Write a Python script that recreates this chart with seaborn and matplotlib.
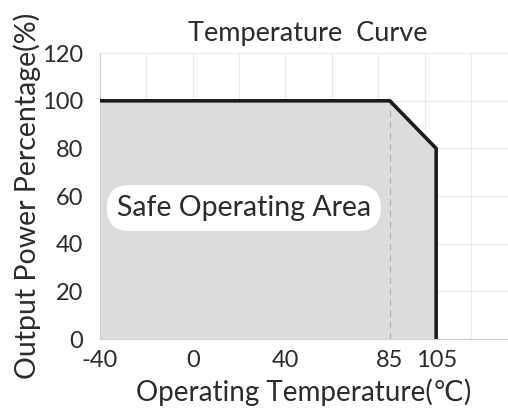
import matplotlib
matplotlib.use("Agg")
import matplotlib.pyplot as plt
import seaborn as sns
import pandas as pd

# Data
temperature = [-40, 85, 105, 105]
power_pct = [100, 100, 80, 0]
xtick_values = [-40, 0, 40, 85, 105]
ytick_values = [0, 20, 40, 60, 80, 100, 120]
grid_x = [-40, -20, 0, 20, 40, 60, 80, 100, 120]
grid_y = [0, 20, 40, 60, 80, 100, 120]

sns.set_theme(style="white")
plt.rcParams['font.family'] = ['Lato', 'DejaVu Sans']
plt.rcParams['axes.unicode_minus'] = False

fig = plt.figure(figsize=(5.08, 4.12), dpi=100)
ax = fig.add_axes([0.197, 0.177, 0.803, 0.694])

df = pd.DataFrame({"t": temperature, "p": power_pct})

for gx in grid_x:
    ax.axvline(gx, color="#ebebeb", lw=0.8, zorder=0)
for gy in grid_y:
    ax.axhline(gy, color="#ebebeb", lw=0.8, zorder=0)

ax.fill_between(df["t"], df["p"], 0, color="#dcdcdc", lw=0, zorder=1)
ax.plot([85, 85], [0, 100], color="#b0b0b0", lw=0.8, ls=(0, (6, 4)), zorder=2)
sns.lineplot(data=df, x="t", y="p", sort=False, estimator=None, color="#1e1b18",
             lw=2.6, ax=ax, zorder=3)

ax.text(22, 55, "Safe Operating Area", ha="center", va="center",
        fontsize=20.5, color="#2b2b2b", zorder=4,
        bbox=dict(boxstyle="round,pad=0.35,rounding_size=0.8", fc="white", ec="none"))

ax.set_xlim(-40, 136)
ax.set_ylim(0, 120)
ax.set_xticks(xtick_values)
ax.set_yticks(ytick_values)
ax.tick_params(axis="both", labelsize=17, colors="#2b2b2b", length=0)
ax.tick_params(axis="y", pad=12)
ax.tick_params(axis="x", pad=8)
for s in ["left", "bottom"]:
    ax.spines[s].set_color("#d0d0d0")
    ax.spines[s].set_linewidth(0.8)
for s in ["top", "right"]:
    ax.spines[s].set_visible(False)

ax.set_xlabel("Operating Temperature(℃)", fontsize=20, color="#2b2b2b", labelpad=5)
ax.set_ylabel("Output Power Percentage(%)", fontsize=20.5, color="#2b2b2b", labelpad=1)
ax.set_title("Temperature  Curve", fontsize=19.5, color="#2b2b2b", pad=9, x=0.51)

fig.savefig("out.png", dpi=100)
